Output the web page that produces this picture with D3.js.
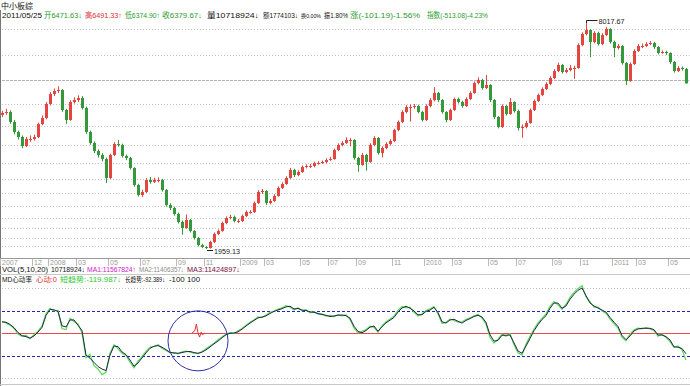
<!DOCTYPE html>
<html><head><meta charset="utf-8">
<script src="https://cdn.jsdelivr.net/npm/d3@7"></script>
<style>html,body{margin:0;padding:0;background:#fff;overflow:hidden}svg{display:block}</style>
</head><body><svg id="c" width="690" height="386"></svg>
<script>
// ---- data ----
const closes=[5590,5616,5349,5082,4948,4708,4895,4895,4948,5295,
5455,5829,6096,6176,6203,5669,5402,5882,5936,5989,
5722,5082,4788,4575,4468,4361,3854,4468,4762,4735,
4441,4388,4121,3667,3400,3480,3801,3747,3801,3801,
3534,3133,3053,2893,2680,2520,2733,2439,2253,2066,
2013,1986,2146,2360,2439,2653,2786,2813,2706,2706,
2840,2946,2946,3187,3480,3507,3187,3240,3374,3587,
3694,3854,4068,3934,4014,4148,4174,4174,4254,4254,
4281,4334,4361,4601,4735,4788,4868,4868,4388,4201,
4468,4281,4735,4922,4521,4655,4762,4842,5135,5349,
5616,5749,5749,5776,5616,5402,5776,5936,6123,5936,
5616,5402,5669,5962,5882,5776,5962,6123,6389,6470,
6256,6336,5936,5482,5215,5776,5562,5882,5642,5188,
5215,5322,5669,5909,6069,6229,6363,6523,6710,6870,
6683,6736,6790,6790,7404,7697,7804,7484,7724,7430,
7671,7831,7484,7324,7377,6923,6443,6897,7244,7377,
7377,7430,7457,7350,7190,7217,7190,6950,6710,6790,
6763,6379.67];
const opens=[5540,5590,5616,5349,5082,4948,4708,4895,4895,4948,
5295,5455,5829,6096,6176,6203,5669,5402,5882,5936,
5989,5722,5082,4788,4575,4468,4361,3854,4468,4762,
4735,4441,4388,4121,3667,3400,3480,3801,3747,3801,
3801,3534,3133,3053,2893,2680,2520,2733,2439,2253,
2066,2013,1986,2146,2360,2439,2653,2786,2813,2706,
2706,2840,2946,2946,3187,3480,3507,3187,3240,3374,
3587,3694,3854,4068,3934,4014,4148,4174,4174,4254,
4254,4281,4334,4361,4601,4735,4788,4868,4868,4388,
4201,4468,4281,4735,4922,4521,4655,4762,4842,5135,
5349,5616,5749,5749,5776,5616,5402,5776,5936,6123,
5936,5616,5402,5669,5962,5882,5776,5962,6123,6389,
6470,6256,6336,5936,5482,5215,5776,5562,5882,5642,
5188,5215,5322,5669,5909,6069,6229,6363,6523,6710,
6870,6683,6736,6790,6790,7404,7697,7804,7484,7724,
7430,7671,7831,7484,7324,7377,6923,6443,6897,7244,
7377,7377,7430,7457,7350,7190,7217,7190,6950,6710,
6790,6763];
const highs=[5650,5700,5660,5400,5120,4990,4950,4990,5010,5330,
5520,5880,6150,6240,6300,6230,5700,5930,6010,6060,
6040,5760,5120,4830,4620,4520,4400,4500,4810,4870,
4770,4480,4420,4140,3700,3540,3850,3880,3860,3870,
3830,3560,3180,3090,2930,2720,2880,2760,2470,2280,
2100,2040,2180,2400,2480,2690,2830,2870,2850,2760,
2880,2990,3000,3230,3530,3560,3530,3290,3420,3630,
3740,3900,4120,4100,4060,4190,4220,4230,4290,4300,
4320,4380,4420,4640,4780,4840,4940,4920,4890,4420,
4520,4500,4780,4970,4950,4700,4810,4890,5170,5390,
5660,5800,5820,5830,5810,5650,5820,5990,6280,6150,
5960,5640,5710,6000,6000,5920,6010,6170,6430,6540,
6500,6600,6360,5960,5510,5820,5800,5990,5900,5680,
5280,5380,5710,5950,6110,6270,6410,6570,6760,6930,
6900,6790,6870,6850,7450,7740,8017.67,7830,7770,7760,
7720,7880,7850,7520,7430,7400,6950,6940,7290,7430,
7440,7480,7510,7490,7380,7260,7250,7210,6980,6840,
6830,6790];
const lows=[5480,5540,5300,5020,4880,4650,4680,4820,4850,4920,
5260,5420,5790,6040,6120,5620,5300,5380,5840,5880,
5680,5030,4740,4520,4400,4300,3720,3830,4440,4690,
4400,4330,4080,3620,3360,3350,3450,3700,3720,3740,
3490,3090,3000,2850,2640,2340,2500,2400,2210,2030,
1980,1959.13,1970,2120,2330,2420,2620,2750,2670,2650,
2680,2810,2900,2920,3160,3430,3130,3150,3210,3350,
3560,3670,3830,3880,3900,3990,4110,4120,4140,4210,
4230,4250,4310,4340,4570,4700,4760,4700,4340,4020,
4180,4050,4260,4700,4480,4400,4620,4720,4810,5100,
5320,5580,5360,5700,5580,5360,5380,5740,5900,5880,
5570,5340,5380,5640,5840,5730,5750,5930,6100,6350,
6210,6230,5880,5430,5180,5190,5520,5540,5600,5120,
4930,5180,5300,5640,5880,6040,6200,6330,6490,6680,
6640,6650,6700,6500,6770,7370,7660,7080,7450,7390,
7400,7640,7440,7080,7280,6880,6330,6420,6870,7220,
7320,7350,7400,7300,7150,7170,7140,6900,6670,6680,
6720,6374.90];
const longTrend=[49,48,38,24,2,-12,-16,-23,-13,4,
25,78,105,103,96,32,27,58,58,34,
11,-98,-112,-131,-149,-160,-167,-98,-58,-60,
-84,-96,-120,-148,-133,-111,-88,-68,-59,-56,
-63,-74,-86,-89,-90,-87,-83,-82,-87,-90,
-85,-75,-62,-48,-36,-21,-8,-1,0,5,
17,31,44,56,67,71,76,87,96,102,
108,116,119,107,109,102,100,94,92,87,
82,79,73,76,79,80,77,66,30,7,
1,11,26,31,8,28,45,57,69,93,
111,119,110,98,81,81,96,102,114,91,
50,44,58,61,52,44,56,64,73,79,
71,47,-8,-36,-33,-10,-10,-9,-44,-80,
-90,-58,-24,10,37,60,77,110,133,133,
110,120,150,172,190,200,166,133,120,111,
102,93,69,48,29,-11,-30,-13,9,18,
21,21,21,15,-9,-9,-16,-31,-61,-63,
-69,-92.389];
const shortTrend=[52,45,35,20,-5,-15,-10,-25,-8,8,
30,85,110,98,100,20,15,65,50,40,
0,-110,-95,-145,-160,-185,-175,-90,-52,-70,
-90,-100,-130,-155,-125,-105,-82,-62,-60,-52,
-68,-78,-88,-86,-93,-84,-80,-85,-90,-92,
-82,-70,-58,-45,-30,-18,-5,2,-3,10,
20,35,48,58,72,68,80,92,98,106,
112,122,115,102,112,98,104,90,95,84,
85,75,78,72,82,76,80,60,22,0,
8,15,30,25,3,32,50,62,75,100,
118,112,115,92,76,86,100,108,118,85,
42,48,62,56,48,50,60,68,76,82,
66,40,-20,-45,-28,-5,-15,-2,-52,-88,
-98,-50,-15,18,45,65,85,118,140,125,
105,128,158,180,198,210,160,140,115,115,
98,88,62,42,22,-20,-35,-5,14,22,
18,24,18,10,-14,-5,-20,-38,-65,-58,
-75,-119.987];
const heartIdx=[47.5,48.2,48.6,49.0,49.4,49.8,50.1,50.7];
const heartVal=[0,10,40,0,-18,4,-8,0];
const tickIdx=[0,8,12,19,27,35,44,51,60,66,75,82,89,98,106,113,122,129,138,145,153,159,167];
const tickLabels=["2007","12","2008","03","05","07","09","11","2009","03","05","07","09","11","2010","03","05","07","09","11","2011","03","05"];
const prevClose=6480.86;
const gridSteps=[2,1,-1,-2,-3,-4,-5,-6,-7,-8,-9,-10,-11];
const maxLabel=8017.67, minLabel=1959.13;
const title="中小板综";
const quoteDate="2011/05/25";
const quoteOpen=6471.63, quoteHigh=6491.33, quoteLow=6374.90, quoteClose=6379.67;
const quoteVol=10718924, quoteAmt=1774103, quoteTurn="0.00", quoteAmp="1.80";
const quoteChg=-101.19, quoteChgPct=-1.56, indexChg=-513.08, indexChgPct=-4.23;
const volParams="5,10,20", vol=10718924, volMA=[11567824,11406357,11424897];
const mdName="MD心动率", heartNow=0;

// ---- drawing ----
const svg=d3.select("#c");
const F='"Liberation Sans","Noto Sans CJK SC",sans-serif';
const n=closes.length;
const x=d3.scaleLinear().domain([0,n-1]).range([2,686]);
const y=d3.scaleLinear().domain([minLabel,maxLabel]).range([249,22]);
const yi=d3.scaleLinear().domain([-200,200]).range([378,288]);
const UP="#e4463f", DN="#33993a", GR="#2e9a2e";

svg.append("line").attr("x1",0.5).attr("x2",0.5).attr("y1",10).attr("y2",386).attr("stroke","#777");

gridSteps.forEach(s=>{
  const v=prevClose*(s>0?Math.pow(1.1,s):Math.pow(0.9,-s));
  const yy=Math.round(y(v))+0.5;
  svg.append("line").attr("x1",2).attr("x2",690).attr("y1",yy).attr("y2",yy)
    .attr("stroke","#c4c4c4").attr("stroke-dasharray","1,2");
});
const yp=Math.round(y(prevClose))+0.5;
svg.append("line").attr("x1",2).attr("x2",690).attr("y1",yp).attr("y2",yp)
  .attr("stroke","#b4b4b4").attr("stroke-dasharray","3,1");

const g=svg.append("g");
d3.range(n).forEach(i=>{
  const cx=Math.round(x(i));
  const up=closes[i]>=opens[i];
  const col=up?UP:DN;
  g.append("line").attr("x1",cx+0.5).attr("x2",cx+0.5)
    .attr("y1",y(highs[i])).attr("y2",y(lows[i])).attr("stroke",col).attr("stroke-width",1);
  const t=y(Math.max(opens[i],closes[i])), b=y(Math.min(opens[i],closes[i]));
  g.append("rect").attr("x",cx-1).attr("width",3).attr("y",t).attr("height",Math.max(1,b-t)).attr("fill",col);
});

const iMax=highs.indexOf(d3.max(highs)), iMin=lows.indexOf(d3.min(lows));
const mx=Math.round(x(iMax))+0.5, my=y(highs[iMax]);
svg.append("path").attr("d",`M${mx},${my+1}V${my-1.5}H${mx+11}`).attr("fill","none").attr("stroke","#222");
svg.append("text").attr("x",mx+12).attr("y",my+1.5).text(maxLabel.toFixed(2))
  .attr("font-family",F).attr("font-size",7.5).attr("fill","#222").attr("textLength",26).attr("lengthAdjust","spacingAndGlyphs");
const lx=Math.round(x(iMin))+1, ly=y(lows[iMin])+1.5;
svg.append("line").attr("x1",lx).attr("x2",lx+6).attr("y1",ly).attr("y2",ly).attr("stroke","#222");
svg.append("text").attr("x",lx+7).attr("y",ly+3).text(minLabel.toFixed(2))
  .attr("font-family",F).attr("font-size",7.5).attr("fill","#222").attr("textLength",26).attr("lengthAdjust","spacingAndGlyphs");

svg.append("line").attr("x1",0).attr("x2",690).attr("y1",258.5).attr("y2",258.5).attr("stroke","#999");
tickIdx.forEach((ti,k)=>{
  const tx=Math.round(x(ti))-2+0.5;
  svg.append("line").attr("x1",tx).attr("x2",tx).attr("y1",259).attr("y2",266).attr("stroke","#bbb");
  svg.append("text").attr("x",tx+1.5).attr("y",264.5).text(tickLabels[k])
    .attr("font-family",F).attr("font-size",7).attr("fill","#9a9a9a");
});
svg.append("line").attr("x1",0).attr("x2",690).attr("y1",274.5).attr("y2",274.5).attr("stroke","#c8c8c8");
svg.append("line").attr("x1",0).attr("x2",690).attr("y1",384.5).attr("y2",384.5).attr("stroke","#c8c8c8");

function txt(s,xx,yy,col,len,size){
  const t=svg.append("text").attr("x",xx).attr("y",yy).text(s).attr("font-family",F)
    .attr("font-size",size||7.5).attr("fill",col);
  if(len) t.attr("textLength",len).attr("lengthAdjust","spacingAndGlyphs");
  return t;
}
txt(title,1,9,"#111",32,8);
txt(quoteDate,2,18,"#111",40);
txt("开"+quoteOpen.toFixed(2)+"↓",44,18,GR,38);
txt("高"+quoteHigh.toFixed(2)+"↑",85,18,"#e03030",37);
txt("低"+quoteLow.toFixed(2)+"↑",125,18,GR,35);
txt("收"+quoteClose.toFixed(2)+"↓",162,18,GR,40);
txt("量"+quoteVol+"↓",207,18,"#111",52);
txt("额"+quoteAmt+"↓",263,18,"#111",35,6.3);
txt("换"+quoteTurn+"%",301,18,"#111",20,5.5);
txt("振"+quoteAmp+"%",324,18,"#111",24,6.5);
txt("涨("+quoteChg.toFixed(2)+")"+quoteChgPct.toFixed(2)+"%",350,18,GR,70);
txt("指数("+indexChg.toFixed(2)+")"+indexChgPct.toFixed(2)+"%",427,18,GR,61);

txt("VOL("+volParams+")",2,272,"#111",46,7);
txt(vol+"↓",51,272,"#111",34,7);
txt("MA1:"+volMA[0]+"↑",87,272,"#d020c8",49,7);
txt("MA2:"+volMA[1]+"↓",139,272,"#8a8a8a",45,7);
txt("MA3:"+volMA[2]+"↓",187,272,"#7a1040",53,7);

txt(mdName,2,281.5,"#111",30,7);
txt("心动:"+heartNow,36,281.5,"#e03030",21,7);
txt("短趋势:"+shortTrend[n-1]+"↓",60,281.5,"#2ec82e",61,7);
txt("长趋势:"+longTrend[n-1]+"↓",125,281.5,"#111",40,6.5);
txt("-100 100",169,281.5,"#111",31,7);

[200,-200].forEach(v=>{
  const yy=Math.round(yi(v))+0.5;
  svg.append("line").attr("x1",2).attr("x2",690).attr("y1",yy).attr("y2",yy).attr("stroke","#c0c0c0").attr("stroke-dasharray","1,2");
});
[100,-100].forEach(v=>{
  const yy=Math.round(yi(v))+0.5;
  svg.append("line").attr("x1",2).attr("x2",690).attr("y1",yy).attr("y2",yy).attr("stroke","#2323b4").attr("stroke-dasharray","3,2");
});
const y0=Math.round(yi(0))+0.5;
svg.append("line").attr("x1",2).attr("x2",690).attr("y1",y0).attr("y2",y0).attr("stroke","#ec4a4a");

const ln=d3.line().x((d,i)=>x(i)).y(d=>yi(d));
svg.append("path").attr("d",ln(shortTrend)).attr("fill","none").attr("stroke","#5ada5a").attr("stroke-width",1.2);
svg.append("path").attr("d",ln(longTrend)).attr("fill","none").attr("stroke","#1c2a44").attr("stroke-width",1);
const hl=d3.line().x(d=>x(d[0])).y(d=>yi(d[1]));
svg.append("path").attr("d",hl(heartIdx.map((h,k)=>[h,heartVal[k]]))).attr("fill","none").attr("stroke","#e03030").attr("stroke-width",1);
svg.append("circle").attr("cx",x(49)).attr("cy",yi(-35)).attr("r",30).attr("fill","none").attr("stroke","#3030a8").attr("stroke-width",1);
</script></body></html>
